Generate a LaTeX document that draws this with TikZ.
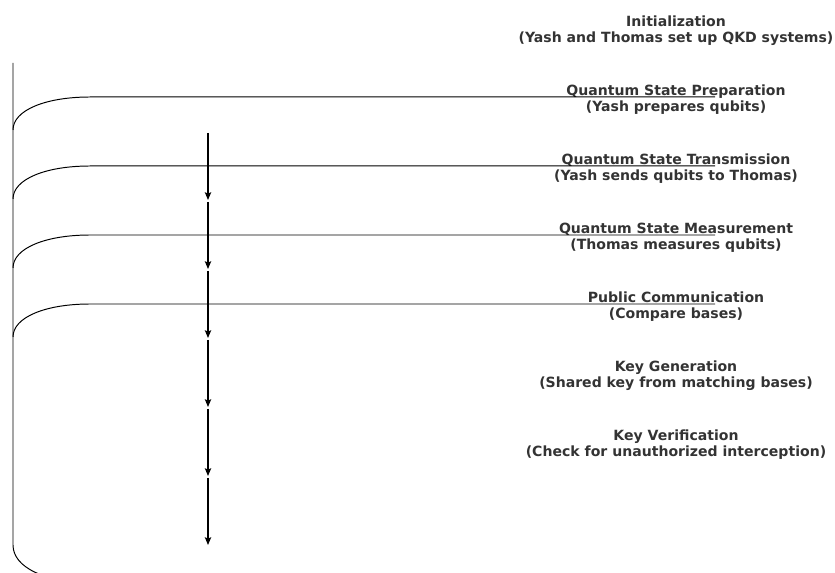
\documentclass[tikz,border=0pt]{standalone}
\usepackage{fontspec}
\setmainfont{DejaVu Sans}
\usetikzlibrary{arrows.meta}
\definecolor{labelgray}{HTML}{333333}

\begin{document}
\begin{tikzpicture}[
  step label/.style={align=center, text=labelgray, yshift=-0.06cm, font=\bfseries\fontsize{10}{11.4}\selectfont},
  branch/.style={line width=0.7pt},
  flow/.style={line width=0.9pt, -{Stealth[length=5.5pt,width=4.5pt,inset=1pt]}}]

  %% Page size.
  \useasboundingbox (0,0) rectangle (20.875cm, 14.325cm);
  \clip (0,0) rectangle (20.875cm, 14.325cm);


  %% The step labels:
  \node[step label] (init)   at (16.9,13.625) {Initialization\\(Yash and Thomas set up QKD systems)};
  \node[step label] (prep)   at (16.9,11.9)   {Quantum State Preparation\\(Yash prepares qubits)};
  \node[step label] (trans)  at (16.9,10.175) {Quantum State Transmission\\(Yash sends qubits to Thomas)};
  \node[step label] (meas)   at (16.9,8.45)   {Quantum State Measurement\\(Thomas measures qubits)};
  \node[step label] (pub)    at (16.9,6.725)  {Public Communication\\(Compare bases)};
  \node[step label] (keygen) at (16.9,5.0)    {Key Generation\\(Shared key from matching bases)};
  \node[step label] (keyver) at (16.9,3.275)  {Key Verification\\(Check for unauthorized interception)};


  %% The left rail and its bottom bend:
  \coordinate (railtop) at (0.325,12.75);
  \coordinate (railbot) at (0.325,0.7);
  \coordinate (railend) at (2.4,-0.25);
  \draw[branch] (railtop) -- (railbot)
  .. controls +(0,-0.55) and +(-1.3,0) .. (railend);


  %% The branches into the labels:
  \foreach \step in {prep, trans, meas, pub} {
    \coordinate (\step-row) at ([yshift=0.06cm] \step.center);
    \coordinate (\step-foot) at ([yshift=-0.825cm] 0.325,0 |- \step-row);
    \coordinate (\step-tip) at ([xshift=0.975cm] \step-row);
    \draw[branch] (\step-foot)
    .. controls +(0,0.5) and +(-1.1,0) .. ([xshift=2.25cm] 0,0 |- \step-row)
    -- (\step-tip);
  }


  %% The arrows down the middle:
  \foreach \i in {0,...,5} {
    \coordinate (from\i) at (5.2, {11.0-1.725*\i});
    \coordinate (to\i) at (5.2, {9.325-1.725*\i});
    \draw[flow] (from\i) -- (to\i);
  }

\end{tikzpicture}
\end{document}
